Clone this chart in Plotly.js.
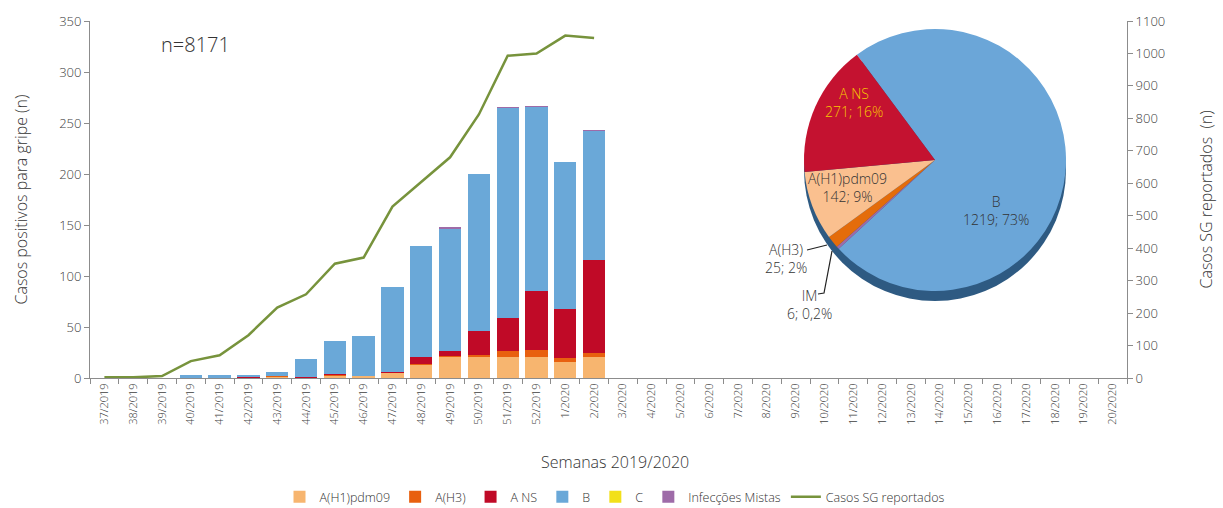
<!DOCTYPE html>
<html>
<head>
<meta charset="utf-8">
<script src="https://cdn.plot.ly/plotly-3.0.1.min.js"></script>
<style>html,body{margin:0;padding:0;background:#fff;}#chart{width:1223px;height:508px;}</style>
</head>
<body>
<div id="chart"></div>
<script>
// ---- data ----
const weeks = ['37/2019','38/2019','39/2019','40/2019','41/2019','42/2019','43/2019','44/2019','45/2019','46/2019','47/2019','48/2019','49/2019','50/2019','51/2019','52/2019','1/2020','2/2020','3/2020','4/2020','5/2020','6/2020','7/2020','8/2020','9/2020','10/2020','11/2020','12/2020','13/2020','14/2020','15/2020','16/2020','17/2020','18/2020','19/2020','20/2020'];
const h1pdm09 = [0,0,0,0,0,0,1,0,2,2,5,13,21,21,21,21,16,21];
const h3      = [0,0,0,0,0,0,1,0,1,0,0,1,1,2,5,6,4,4];
const ans     = [0,0,0,0,0,1,0,1,1,0,1,7,4,23,33,58,48,91];
const bInf    = [0,0,0,3,3,2,4,18,32,39,83,108,120,154,206,181,144,126];
const cInf    = [0,0,0,0,0,0,0,0,0,0,0,0,0,0,0,0,0,0];
const mistas  = [0,0,0,0,0,0,0,0,0,0,0,0,2,0,1,1,0,1];
const casosSG = [2,2,6,52,70,132,217,258,352,371,528,605,680,812,993,1000,1055,1048];

const pieLabels = ['B','IM','A(H3)','A(H1)pdm09','A NS'];
const pieValues = [1219, 6, 25, 142, 271];
const piePct    = ['73%','0,2%','2%','9%','16%'];
const nTotal = 'n=8171';

// ---- geometry helpers (plot area in px) ----
const L = 90, R = 1127, T = 21, B = 378;
const px = x => (x - L) / (R - L);
const py = y => (B - y) / (B - T);

const font = 'Open Sans, Segoe UI, Liberation Sans, sans-serif';
const txt = '#404040';

const barColors = {h1:'#F7B56F', h3:'#E8600F', ans:'#C00A27', b:'#6AA8D8', c:'#F2E01A', im:'#9E6BA8'};
function bar(name, y, color){
  return {type:'bar', name:name, x:weeks.slice(0, y.length), y:y, marker:{color:color, line:{width:0}}, hoverinfo:'x+y+name'};
}

const traces = [
  bar('A(H1)pdm09', h1pdm09, barColors.h1),
  bar('A(H3)', h3, barColors.h3),
  bar('A NS', ans, barColors.ans),
  bar('B', bInf, barColors.b),
  bar('C', cInf, barColors.c),
  bar('Infecções Mistas', mistas, barColors.im),
  {type:'scatter', mode:'lines', name:'Casos SG reportados', x:weeks.slice(0, casosSG.length), y:casosSG, yaxis:'y2', line:{color:'#77933C', width:2.5}},
];

// pie shadow and pie
const cx = 935, cy = 160, r = 131, sh = 10;
traces.push({type:'pie', values:[1], marker:{colors:['#2E5A82'], line:{width:0}}, textinfo:'none', hoverinfo:'skip', showlegend:false, sort:false,
  domain:{x:[px(cx-r), px(cx+r)], y:[py(cy+r+sh), py(cy-r+sh)]}});
traces.push({type:'pie', labels:pieLabels, values:pieValues, sort:false, direction:'clockwise', rotation:-36.6,
  marker:{colors:['#6BA6D8','#9E6BA8','#E46C0A','#FAC08F','#C41230'], line:{width:0}},
  textinfo:'none', showlegend:false,
  domain:{x:[px(cx-r), px(cx+r)], y:[py(cy+r), py(cy-r)]}});

function lbl(i){ return pieValues[i] + '; ' + piePct[i]; }
const ann = [
  {text:nTotal, x:px(195), y:py(45), font:{size:20, color:'#333'}},
  {text:'Casos positivos para gripe (n)', x:px(20), y:0.5, textangle:-90, font:{size:16, color:'#333'}},
  {text:'Casos SG reportados  (n)', x:px(1205), y:0.5, textangle:-90, font:{size:16, color:'#333'}},
  {text:'Semanas 2019/2020', x:px(615), y:py(462), font:{size:16, color:'#333'}},
  {text:pieLabels[4] + '<br>' + lbl(4), x:px(854), y:py(103), font:{size:14, color:'#F7C800'}},
  {text:pieLabels[3] + '<br>' + lbl(3), x:px(847), y:py(187), font:{size:14, color:'#333'}},
  {text:pieLabels[0] + '<br>' + lbl(0), x:px(996), y:py(210), font:{size:14, color:'#333'}},
  {text:pieLabels[2] + '<br>' + lbl(2), x:px(786), y:py(258), font:{size:14, color:'#333'}},
  {text:pieLabels[1] + '<br>' + lbl(1), x:px(809), y:py(304), font:{size:14, color:'#333'}},
].map(a => Object.assign({xref:'paper', yref:'paper', showarrow:false, xanchor:'center', yanchor:'middle'}, a));

const shapes = [
  {type:'path', path:`M ${px(807)} ${py(250)} L ${px(827)} ${py(245)}`},
  {type:'path', path:`M ${px(818)} ${py(294)} L ${px(824)} ${py(293)} L ${px(832)} ${py(251)}`},
].map(s => Object.assign({xref:'paper', yref:'paper', line:{color:'#222', width:1.2}}, s));

const axisCommon = {showgrid:false, zeroline:false, showline:true, linecolor:'#8c8c8c', linewidth:1, ticks:'outside', ticklen:5, tickcolor:'#8c8c8c', tickfont:{size:13, color:txt}, automargin:false};

const layout = {
  width:1223, height:508,
  margin:{l:L, r:1223-R, t:T, b:508-B, autoexpand:false},
  paper_bgcolor:'#fff', plot_bgcolor:'rgba(0,0,0,0)',
  font:{family:font, color:txt, weight:300},
  barmode:'stack', bargap:0.225,
  showlegend:true,
  legend:{orientation:'h', x:px(615), xanchor:'center', y:py(497), yanchor:'middle', traceorder:'normal', font:{size:12.5, color:'#333'}, tracegroupgap:0},
  xaxis:Object.assign({}, axisCommon, {type:'category', categoryorder:'array', categoryarray:weeks, range:[-0.5, weeks.length-0.5], tickangle:-90, tickson:'boundaries', tickfont:{size:11, color:txt}, tickvals:weeks, ticktext:weeks}),
  yaxis:Object.assign({}, axisCommon, {range:[0,350], dtick:50}),
  yaxis2:Object.assign({}, axisCommon, {range:[0,1100], dtick:100, overlaying:'y', side:'right'}),
  annotations:ann,
  shapes:shapes,
};

Plotly.newPlot('chart', traces, layout, {displayModeBar:false, staticPlot:true});
</script>
</body>
</html>
